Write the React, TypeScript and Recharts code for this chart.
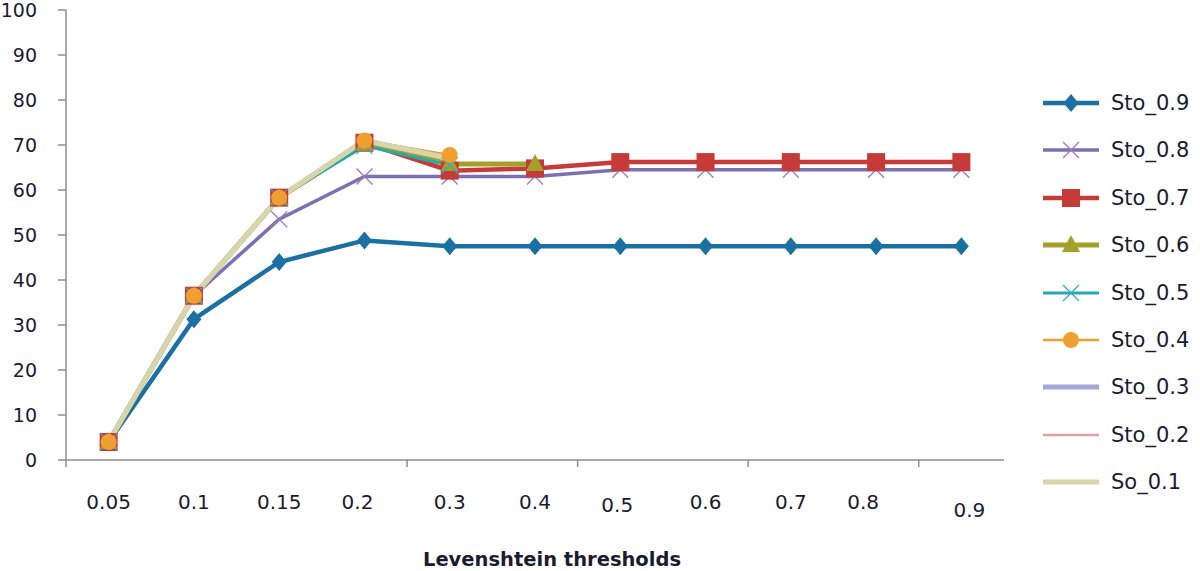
import React from 'react';
import { LineChart, Line, XAxis, YAxis, Label } from 'recharts';

// ---------- data ----------
const categories = ['0.05', '0.1', '0.15', '0.2', '0.3', '0.4', '0.5', '0.6', '0.7', '0.8', '0.9'];
const yTicks = [0, 10, 20, 30, 40, 50, 60, 70, 80, 90, 100];

const sto09 = [4, 31.3, 44, 48.8, 47.5, 47.5, 47.5, 47.5, 47.5, 47.5, 47.5];
const sto08 = [4, 36.5, 53.5, 63, 63, 63, 64.5, 64.5, 64.5, 64.5, 64.5];
const sto07 = [4, 36.5, 58.3, 70.5, 64.3, 64.8, 66.2, 66.2, 66.2, 66.2, 66.2];
const sto06 = [4, 36.5, 58.3, 70.3, 65.8, 65.8, null, null, null, null, null];
const sto05 = [4, 36.5, 58.3, 69.8, 65.5, null, null, null, null, null, null];
const sto04 = [4, 36.5, 58.3, 71, 67.8, null, null, null, null, null, null];
const sto03 = [4, 36.5, 58.3, 71, 67, null, null, null, null, null, null];
const sto02 = [4, 36.5, 58.3, 71, 67, null, null, null, null, null, null];
const so01 = [4, 36.5, 58.3, 71, 67, null, null, null, null, null, null];

const seriesNames = ['Sto_0.9', 'Sto_0.8', 'Sto_0.7', 'Sto_0.6', 'Sto_0.5', 'Sto_0.4', 'Sto_0.3', 'Sto_0.2', 'So_0.1'];
const seriesValues = [sto09, sto08, sto07, sto06, sto05, sto04, sto03, sto02, so01];

// ---------- styles ----------
type MarkerType = 'diamond' | 'x' | 'square' | 'triangle' | 'circle' | 'none';
const seriesStyles: { color: string; width: number; marker: MarkerType; markerColor?: string }[] = [
  { color: '#1a6fa3', width: 4.5, marker: 'diamond' },
  { color: '#7a70b2', width: 3.5, marker: 'x', markerColor: '#a07ab8' },
  { color: '#c63a38', width: 4.5, marker: 'square' },
  { color: '#a5a02a', width: 5, marker: 'triangle' },
  { color: '#25a9ab', width: 3, marker: 'x', markerColor: '#3aa8c0' },
  { color: '#f0a030', width: 2.5, marker: 'circle' },
  { color: '#a3a8d8', width: 5, marker: 'none' },
  { color: '#e4a0a0', width: 2.5, marker: 'none' },
  { color: '#d8d5a8', width: 5, marker: 'none' },
];

const W = 1200;
const H = 571;
const MARGIN = { top: 10, right: 196, bottom: 0, left: 0 };
const Y_AXIS_W = 66;
const X_AXIS_H = 111;
const PLOT_W = W - MARGIN.right - Y_AXIS_W;
const BAND = PLOT_W / categories.length;
const AXIS_COLOR = '#8e8e8e';
const TEXT_COLOR = '#1b1b30';
const FONT = '"DejaVu Sans", sans-serif';
const BOUNDARY_TICKS_AFTER = [3, 5, 7, 9];
const TICK_NUDGE: Record<string, [number, number]> = {
  '0.2': [-7, 0],
  '0.5': [-3, 3],
  '0.8': [-13, 0],
  '0.9': [8, 8],
};

const data = categories.map((c, i) => {
  const row: Record<string, any> = { cat: c };
  seriesValues.forEach((vals, s) => {
    row['s' + s] = vals[i];
  });
  return row;
});

function drawMarker(type: MarkerType, cx: number, cy: number, color: string, key?: string) {
  switch (type) {
    case 'diamond':
      return (
        <polygon key={key} points={`${cx},${cy - 9} ${cx + 7.5},${cy} ${cx},${cy + 9} ${cx - 7.5},${cy}`} fill={color} />
      );
    case 'square':
      return <rect key={key} x={cx - 9} y={cy - 9} width={18} height={18} fill={color} />;
    case 'triangle':
      return (
        <polygon key={key} points={`${cx},${cy - 10} ${cx + 9},${cy + 7} ${cx - 9},${cy + 7}`} fill={color} />
      );
    case 'circle':
      return <circle key={key} cx={cx} cy={cy} r={8} fill={color} />;
    case 'x':
      return (
        <g key={key} stroke={color} strokeWidth={1.3}>
          <line x1={cx - 8} y1={cy - 8} x2={cx + 8} y2={cy + 8} />
          <line x1={cx - 8} y1={cy + 8} x2={cx + 8} y2={cy - 8} />
        </g>
      );
    default:
      return <g key={key} />;
  }
}

function makeDot(s: number) {
  const st = seriesStyles[s];
  return (props: any) => {
    const { cx, cy, index, value } = props;
    const key = `d${s}-${index}`;
    if (value == null || !Number.isFinite(cx) || !Number.isFinite(cy) || st.marker === 'none') {
      return <g key={key} />;
    }
    return drawMarker(st.marker, cx, cy, st.markerColor || st.color, key);
  };
}

const XTick = (props: any) => {
  const { x, y, payload, index } = props;
  const label = String(payload.value);
  const [nx, ny] = TICK_NUDGE[label] || [0, 0];
  const half = BAND / 2;
  return (
    <g>
      <text
        x={x + nx}
        y={y + 42 + ny}
        textAnchor="middle"
        dominantBaseline="central"
        fontSize={20}
        fill={TEXT_COLOR}
        fontFamily={FONT}
      >
        {label}
      </text>
      {index === 0 && <line x1={x - half} x2={x - half} y1={y} y2={y + 7} stroke={AXIS_COLOR} strokeWidth={1.5} />}
      {BOUNDARY_TICKS_AFTER.includes(index) && (
        <line x1={x + half} x2={x + half} y1={y} y2={y + 7} stroke={AXIS_COLOR} strokeWidth={1.5} />
      )}
    </g>
  );
};

const TitleLabel = (props: any) => {
  const vb = props.viewBox || {};
  return (
    <text
      x={vb.x + vb.width / 2 + 17}
      y={566}
      textAnchor="middle"
      fontSize={19.5}
      fontWeight="bold"
      fill={TEXT_COLOR}
      fontFamily={FONT}
    >
      Levenshtein thresholds
    </text>
  );
};

const LEGEND_TOP = 103;
const LEGEND_STEP = 47.4;

const LegendBox = () => (
  <div style={{ position: 'absolute', left: 1043, top: 0 }}>
    {seriesNames.map((name, s) => {
      const st = seriesStyles[s];
      return (
        <div
          key={name}
          style={{
            position: 'absolute',
            left: 0,
            top: LEGEND_TOP + s * LEGEND_STEP - 14,
            height: 28,
            display: 'flex',
            alignItems: 'center',
            whiteSpace: 'nowrap',
          }}
        >
          <svg width={56} height={28} style={{ display: 'block' }}>
            <line x1={0} x2={56} y1={14} y2={14} stroke={st.color} strokeWidth={st.width} />
            {drawMarker(st.marker, 28, 14, st.markerColor || st.color)}
          </svg>
          <span
            style={{
              marginLeft: 12,
              fontFamily: FONT,
              fontSize: 21,
              color: TEXT_COLOR,
              lineHeight: '28px',
            }}
          >
            {name}
          </span>
        </div>
      );
    })}
  </div>
);

export default function App() {
  return (
    <div style={{ position: 'absolute', left: 0, top: 0, width: W, height: H, background: '#ffffff', overflow: 'hidden' }}>
      <LineChart width={W} height={H} data={data} margin={MARGIN}>
        <XAxis
          dataKey="cat"
          type="category"
          height={X_AXIS_H}
          padding={{ left: BAND / 2, right: BAND / 2 }}
          interval={0}
          tickLine={false}
          tickSize={0}
          tickMargin={0}
          axisLine={{ stroke: AXIS_COLOR, strokeWidth: 1.5 }}
          tick={<XTick />}
        >
          <Label content={<TitleLabel />} />
        </XAxis>
        <YAxis
          width={Y_AXIS_W}
          domain={[0, 100]}
          ticks={yTicks}
          interval={0}
          tickSize={8}
          tickMargin={21}
          axisLine={{ stroke: AXIS_COLOR, strokeWidth: 1.5 }}
          tickLine={{ stroke: AXIS_COLOR, strokeWidth: 1.5 }}
          tick={{ fontSize: 19, fill: TEXT_COLOR, fontFamily: FONT }}
        />
        {seriesNames.map((name, s) => (
          <Line
            key={name}
            name={name}
            dataKey={'s' + s}
            type="linear"
            stroke={seriesStyles[s].color}
            strokeWidth={seriesStyles[s].width}
            dot={makeDot(s)}
            activeDot={false}
            connectNulls={false}
            isAnimationActive={false}
          />
        ))}
      </LineChart>
      <LegendBox />
    </div>
  );
}
